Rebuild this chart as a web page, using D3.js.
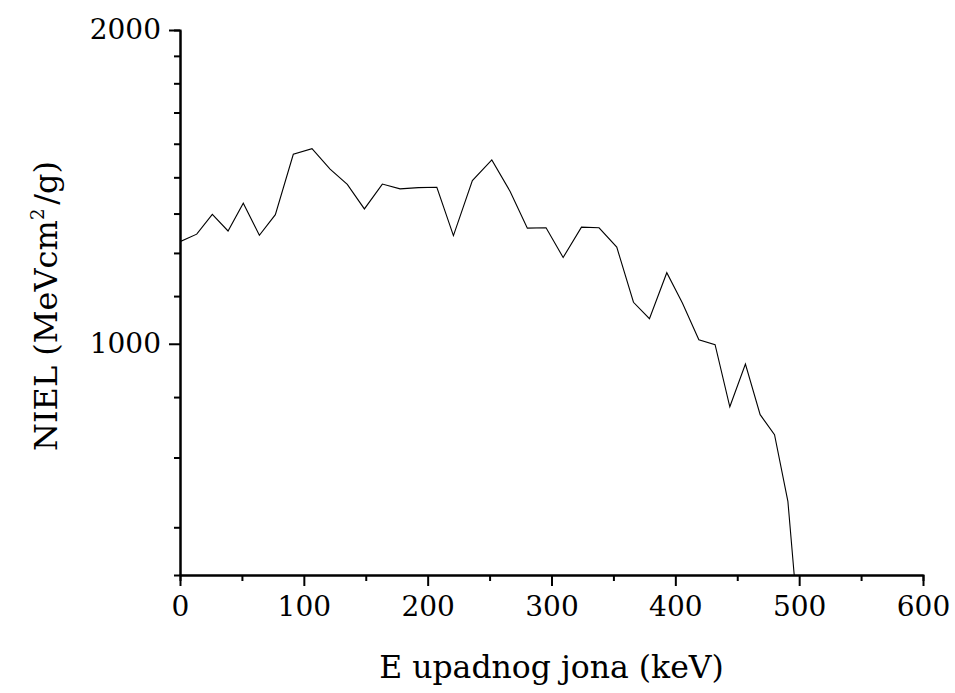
<!DOCTYPE html>
<html>
<head>
<meta charset="utf-8">
<script src="https://cdn.jsdelivr.net/npm/d3@7"></script>
<style>
  body { margin: 0; background: white; }
  svg { display: block; }
</style>
</head>
<body>
<svg id="chart" width="955" height="693"></svg>
<script>
"use strict";

//Energy of the incident ion (keV)
var energy = [0, 13.5, 26.1, 38.8, 51.1, 64.1, 77.0, 91.5, 106.6, 121.2,
  135.1, 148.9, 163.4, 177.7, 192.5, 207.4, 220.8, 236.1, 251.8, 266.6,
  280.5, 295.6, 309.4, 324.2, 338.4, 352.7, 366.2, 379.1, 393.1, 405.7,
  419.0, 432.1, 444.0, 456.6, 468.5, 480.1, 490.9, 496.0];
//NIEL values (MeVcm2/g)
var niel = [1253, 1274, 1331, 1283, 1364, 1271, 1330, 1520, 1539, 1471,
  1422, 1347, 1423, 1408, 1412, 1413, 1270, 1434, 1501, 1400,
  1291, 1292, 1210, 1294, 1292, 1238, 1096, 1057, 1170, 1094,
  1009, 998, 870, 956, 855, 818, 706, 600];

//Tick values
var xTicks = [0, 100, 200, 300, 400, 500, 600];
var xMinorTicks = [50, 150, 250, 350, 450, 550];
var yTicks = [1000, 2000];
var yMinorTicks = [666.7, 777.8, 888.9, 1111.1, 1222.2, 1333.3, 1444.4,
  1555.6, 1666.7, 1777.8, 1888.9];

var svg = d3.select("#chart"),
    margin = {top: 30, right: 32, bottom: 118, left: 180},
    width = +svg.attr("width") - margin.left - margin.right,
    height = +svg.attr("height") - margin.top - margin.bottom,
    g = svg.append("g").attr("transform", "translate(" + margin.left + "," + margin.top + ")");

var fontFam = "'DejaVu Serif', serif";

var x = d3.scaleLinear().domain([0, 600]).range([0, width]);
var y = d3.scaleLog().domain([600, 2000]).range([height, 0]);

//Clip so the last segment stops at the bottom axis
svg.append("defs").append("clipPath")
    .attr("id", "clip")
  .append("rect")
    .attr("width", width)
    .attr("height", height);

var points = energy.map(function(e, i) { return [e, niel[i]]; });

var line = d3.line()
    .x(function(d) { return x(d[0]); })
    .y(function(d) { return y(d[1]); });

g.append("path")
    .datum(points)
    .attr("clip-path", "url(#clip)")
    .attr("fill", "none")
    .attr("stroke", "#000")
    .attr("stroke-width", 1.1)
    .attr("d", line);

//Minor ticks
g.append("g")
    .attr("class", "axis")
    .attr("transform", "translate(0," + height + ")")
    .call(d3.axisBottom(x).tickValues(xMinorTicks).tickSize(6).tickFormat(""));
g.append("g")
    .attr("class", "axis")
    .call(d3.axisLeft(y).tickValues(yMinorTicks).tickSize(6).tickFormat(""));

//Major ticks and labels
g.append("g")
    .attr("class", "axis")
    .attr("transform", "translate(0," + height + ")")
    .call(d3.axisBottom(x).tickValues(xTicks).tickSize(11).tickSizeOuter(0).tickPadding(10)
      .tickFormat(d3.format("d")));
g.append("g")
    .attr("class", "axis")
    .call(d3.axisLeft(y).tickValues(yTicks).tickSize(11).tickSizeOuter(0).tickPadding(8)
      .tickFormat(d3.format("d")));

g.selectAll(".axis path")
    .attr("stroke", "#000")
    .attr("stroke-width", 2);
g.selectAll(".axis line")
    .attr("stroke", "#000")
    .attr("stroke-width", 2);
g.selectAll(".axis text")
    .attr("fill", "#000")
    .attr("font-family", fontFam)
    .attr("font-size", "28px");

//Axis titles
svg.append("text")
    .attr("x", margin.left + width / 2)
    .attr("y", 678)
    .attr("text-anchor", "middle")
    .attr("font-family", fontFam)
    .attr("font-size", "31.5px")
    .text("E upadnog jona (keV)");

var yTitle = svg.append("text")
    .attr("transform", "translate(57,306) rotate(-90)")
    .attr("text-anchor", "middle")
    .attr("font-family", fontFam)
    .attr("font-size", "32px");
yTitle.append("tspan").text("NIEL (MeVcm");
yTitle.append("tspan")
    .attr("dy", "-13")
    .attr("font-size", "18px")
    .text("2");
yTitle.append("tspan")
    .attr("dy", "13")
    .attr("dx", "4")
    .text("/g)");
</script>
</body>
</html>
